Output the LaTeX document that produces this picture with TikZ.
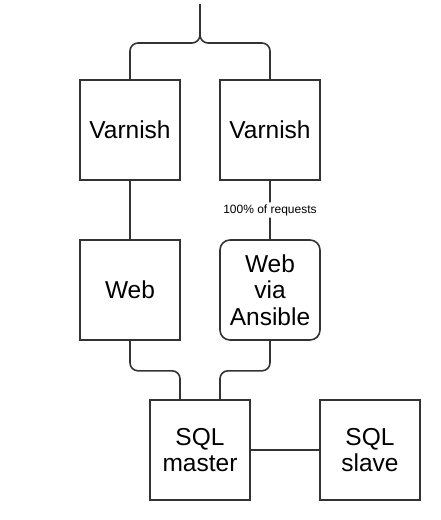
\documentclass[tikz,border=0pt]{standalone}
\usepackage{fontspec}
\setmainfont{Liberation Sans}
\usepackage{tikz}
\definecolor{linegray}{HTML}{333333}
\tikzset{
  server/.style={draw=linegray, line width=1.6pt, minimum width=100pt, minimum height=100pt,
    inner sep=0pt, align=center, font=\fontsize{24.5}{26.5}\selectfont},
  wire/.style={draw=linegray, line width=1.6pt, rounded corners=8pt},
  tag/.style={fill=white, inner sep=2pt, font=\fontsize{12}{13}\selectfont}
}

\begin{document}
\begin{tikzpicture}[x=1pt, y=-1pt]
        \useasboundingbox (0,0) rectangle (440,520);
        % cache layer
        \node[server] (varnA) at (130,130) {Varnish};
        \node[server] (varnB) at (270,130) {Varnish};
        % web layer
        \node[server] (webA) at (130,290) {Web};
        \node[server, rounded corners=10pt] (webB) at (270,290) {Web\\via\\Ansible};
        % database
        \node[server] (sqlM) at (200,450) {SQL\\master};
        \node[server] (sqlS) at (370,450) {SQL\\slave};
        \coordinate (top) at (200,4);
        \coordinate (split) at (200,43);
        \draw[wire] (top) -- (split) -| (varnA.north); \draw[wire] (top) -- (split) -| (varnB.north);
        \draw[wire] (varnA) -- (webA);
        \draw[wire] (varnB) -- node[tag] {100\% of requests} (webB);
        \draw[wire] (webA.south) -- ++(0,30) -| ([xshift=-20pt]sqlM.north); \draw[wire] (webB.south) -- ++(0,30) -| ([xshift=20pt]sqlM.north);
        \draw[wire] (sqlM) -- (sqlS);
    \end{tikzpicture}
\end{document}
